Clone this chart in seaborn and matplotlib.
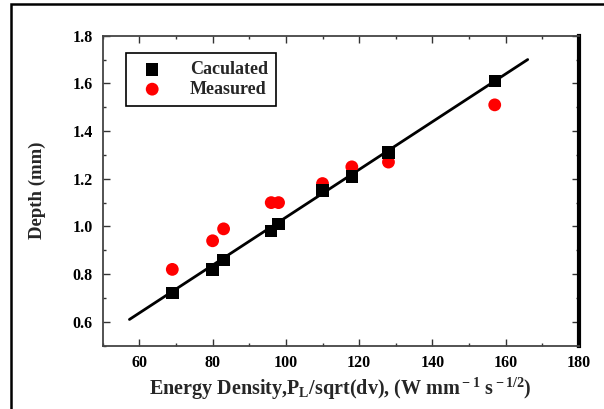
import matplotlib
matplotlib.use("Agg")
import matplotlib.pyplot as plt
import seaborn as sns
import pandas as pd
from matplotlib.patches import Rectangle
from matplotlib.ticker import MultipleLocator

energy = [69, 80, 83, 96, 98, 110, 118, 128, 157]
depth_calc = [0.72, 0.82, 0.86, 0.98, 1.01, 1.15, 1.21, 1.31, 1.61]
depth_meas = [0.82, 0.94, 0.99, 1.10, 1.10, 1.18, 1.25, 1.27, 1.51]
fit_x = [57.3, 166.0]
fit_y = [0.61, 1.70]
x_ticks = [60, 80, 100, 120, 140, 160, 180]
y_ticks = [0.6, 0.8, 1.0, 1.2, 1.4, 1.6, 1.8]

sns.set_style("white")
plt.rcParams['font.family'] = ['Liberation Serif', 'DejaVu Serif']
plt.rcParams['font.weight'] = 'bold'
plt.rcParams['mathtext.fontset'] = 'custom'
plt.rcParams['mathtext.rm'] = 'Liberation Serif:bold'
plt.rcParams['mathtext.bf'] = 'Liberation Serif:bold'
plt.rcParams['mathtext.it'] = 'Liberation Serif:bold'

df = pd.DataFrame({"energy": energy, "calc": depth_calc, "meas": depth_meas})
fit = pd.DataFrame({"x": fit_x, "y": fit_y})

fig = plt.figure(figsize=(6.04, 4.09), dpi=100)
ax = fig.add_axes([0.170, 0.1548, 0.7886, 0.7579])

sns.lineplot(data=fit, x="x", y="y", ax=ax, color="black", linewidth=2.0, legend=False)
sns.scatterplot(data=df, x="energy", y="meas", ax=ax, color="#ff0000", marker="o",
                s=85, edgecolor="none", label="Measured", zorder=3)
sns.scatterplot(data=df, x="energy", y="calc", ax=ax, color="black", marker="s",
                s=80, edgecolor="none", label="Caculated", zorder=4)

ax.set_xlim(50, 180)
ax.set_ylim(0.5, 1.8)
ax.xaxis.set_minor_locator(MultipleLocator(10))
ax.yaxis.set_minor_locator(MultipleLocator(0.1))
ax.set_xticks(x_ticks)
ax.set_xticklabels([str(v) for v in x_ticks], fontweight="bold")
ax.set_yticks(y_ticks)
ax.set_yticklabels([f"{v:.1f}" for v in y_ticks], fontweight="bold")
ax.tick_params(which="both", direction="in", top=True, right=True, bottom=True, left=True,
               colors="#333333", labelcolor="black")
ax.tick_params(which="major", length=5, width=1.0, labelsize=11.5, pad=7)
ax.tick_params(which="minor", length=2.5, width=1.0)

for name, sp in ax.spines.items():
    sp.set_visible(True)
    sp.set_color("#444444")
    sp.set_linewidth(1.3)
ax.spines["right"].set_linewidth(3.0)
ax.spines["right"].set_color("black")

ax.set_ylabel("Depth (mm)", fontsize=13.5, fontweight="bold", labelpad=19)
ax.set_xlabel(r"Energy Density,P$_{\rm L}$/sqrt(dv), (W mm$^{\rm -1}$ s$^{\rm -1/2}$)",
              fontsize=14.5, fontweight="bold", labelpad=3)

handles, labels = ax.get_legend_handles_labels()
order = [labels.index("Caculated"), labels.index("Measured")]
leg = ax.legend([handles[i] for i in order], [labels[i] for i in order],
                loc="upper left", bbox_to_anchor=(0.049, 0.944),
                frameon=True, fancybox=False, edgecolor="black", framealpha=1,
                borderpad=0.45, handletextpad=1.1, labelspacing=0.15,
                borderaxespad=0, prop={"weight": "bold", "size": 13})
leg.get_frame().set_linewidth(1.2)

fig.patches.append(Rectangle((11 / 604, -0.05), 1.2, 1 - 4.5 / 409 + 0.05,
                             transform=fig.transFigure, fill=False,
                             edgecolor="black", linewidth=1.8))

fig.savefig("out.png", dpi=100)
